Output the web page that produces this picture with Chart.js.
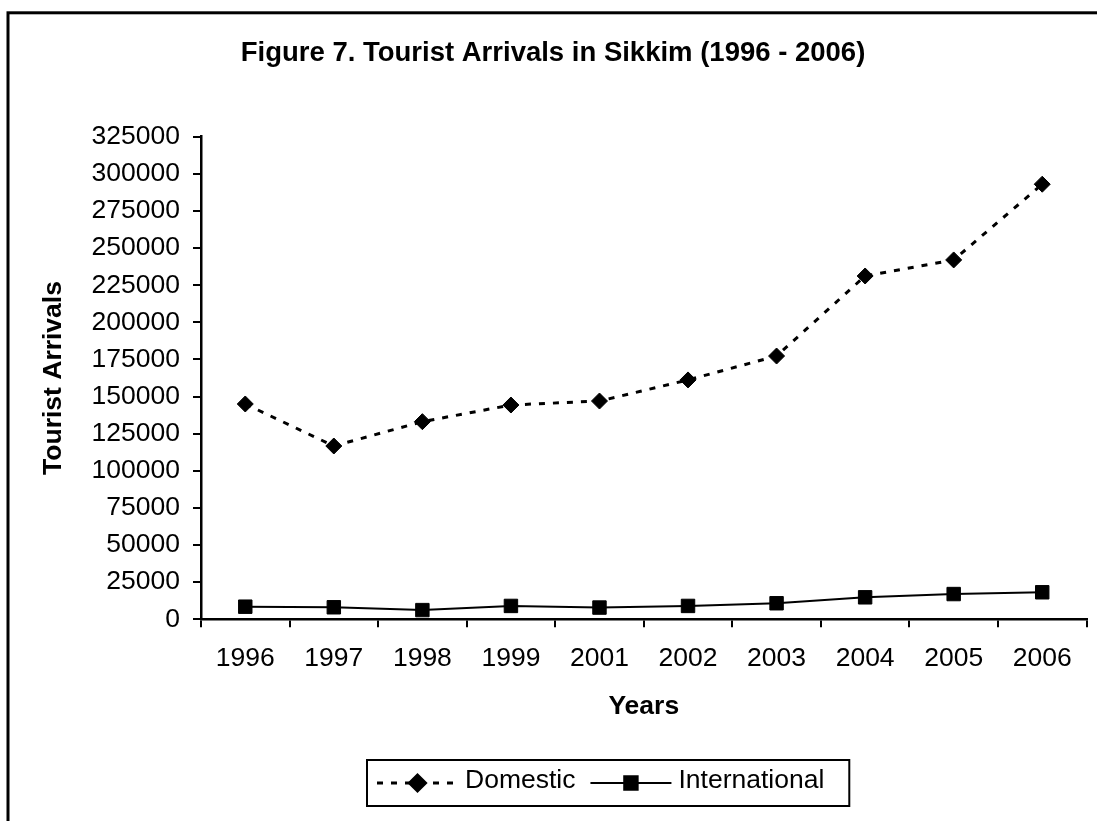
<!DOCTYPE html>
<html>
<head>
<meta charset="utf-8">
<title>Tourist Arrivals in Sikkim</title>
<script src="https://cdn.jsdelivr.net/npm/chart.js@4.4.1/dist/chart.umd.min.js"></script>
<style>
  html, body { margin: 0; padding: 0; background: #fff; }
  canvas { display: block; }
</style>
</head>
<body>
<canvas id="chart" width="1097" height="821"></canvas>
<script>
// Tourist arrivals per year
const years = ['1996', '1997', '1998', '1999', '2001', '2002', '2003', '2004', '2005', '2006'];
const domestic = [145000, 116700, 133100, 144300, 147000, 161200, 177300, 231200, 242000, 293000];
const international = [8500, 8100, 6200, 9000, 7900, 9000, 10800, 14800, 17000, 18200];
const seriesNames = ['Domestic', 'International'];

const chartTitle = 'Figure 7. Tourist Arrivals in Sikkim (1996 - 2006)';
const yAxisTitle = 'Tourist Arrivals';
const xAxisTitle = 'Years';
const yMin = 0;
const yMax = 325000;
const yStep = 25000;

const FONT = '"Liberation Sans", Arial, Helvetica, sans-serif';
const FS = 26.5;
const TITLE_FS = 27.5;

// White page with the heavy outer frame
const frame = {
  id: 'frame',
  beforeDraw(chart) {
    const ctx = chart.ctx;
    ctx.save();
    ctx.fillStyle = '#fff';
    ctx.fillRect(0, 0, chart.width, chart.height);
    ctx.strokeStyle = '#000';
    ctx.lineWidth = 3;
    ctx.strokeRect(8, 12.8, chart.width + 40, chart.height + 40);
    ctx.restore();
  }
};

// Legend in a bordered box, with line + marker samples for each series
const boxedLegend = {
  id: 'boxedLegend',
  afterDraw(chart, args, o) {
    const ctx = chart.ctx;
    ctx.save();
    ctx.font = FS + 'px ' + FONT;
    const sets = chart.data.datasets;
    const widths = sets.map(ds => ctx.measureText(ds.label).width);
    let w = o.padLeft + o.padRight;
    widths.forEach((tw, i) => { w += o.sample + o.textGap + tw + (i ? o.itemGap : 0); });

    ctx.strokeStyle = '#000';
    ctx.lineWidth = 2;
    ctx.strokeRect(o.left, o.top, w, o.height);

    const cy = o.top + o.height / 2;
    let x = o.left + o.padLeft;
    sets.forEach((ds, i) => {
      if (i) x += o.itemGap;
      ctx.save();
      ctx.strokeStyle = ds.borderColor;
      ctx.lineWidth = ds.borderWidth;
      ctx.setLineDash(ds.borderDash || []);
      ctx.beginPath();
      ctx.moveTo(x, cy);
      ctx.lineTo(x + o.sample, cy);
      ctx.stroke();
      ctx.setLineDash([]);
      ctx.fillStyle = ds.pointBackgroundColor;
      ctx.strokeStyle = ds.pointBorderColor;
      Chart.helpers.drawPoint(ctx, {
        pointStyle: ds.pointStyle,
        radius: ds.pointRadius,
        borderWidth: ds.pointBorderWidth,
        rotation: 0
      }, x + o.sample / 2, cy);
      ctx.restore();
      x += o.sample + o.textGap;
      ctx.fillStyle = '#000';
      ctx.textAlign = 'left';
      ctx.textBaseline = 'middle';
      ctx.fillText(ds.label, x, cy - 2);
      x += widths[i];
    });
    ctx.restore();
  }
};

new Chart(document.getElementById('chart'), {
  type: 'line',
  data: {
    labels: years,
    datasets: [
      {
        label: seriesNames[0],
        data: domestic,
        borderColor: '#000',
        borderWidth: 3,
        borderDash: [6, 8],
        pointStyle: 'rectRot',
        pointRadius: 8,
        pointBackgroundColor: '#000',
        pointBorderColor: '#000',
        pointBorderWidth: 1,
        tension: 0,
        fill: false
      },
      {
        label: seriesNames[1],
        data: international,
        borderColor: '#000',
        borderWidth: 2,
        pointStyle: 'rect',
        pointRadius: 9.5,
        pointBackgroundColor: '#000',
        pointBorderColor: '#000',
        pointBorderWidth: 1,
        tension: 0,
        fill: false
      }
    ]
  },
  options: {
    responsive: false,
    animation: false,
    layout: { padding: { left: 17, right: 8, top: 0, bottom: 81.7 } },
    plugins: {
      legend: { display: false },
      tooltip: { enabled: false },
      title: {
        display: true,
        text: chartTitle,
        color: '#000',
        font: { family: FONT, size: TITLE_FS, weight: 'bold', lineHeight: 1.2 },
        padding: { top: 36.5, bottom: 67.2 }
      },
      boxedLegend: {
        left: 367, top: 760, height: 46,
        padLeft: 10, padRight: 25,
        sample: 81, textGap: 7, itemGap: 15
      }
    },
    scales: {
      x: {
        type: 'category',
        offset: true,
        grid: {
          offset: true,
          drawOnChartArea: false,
          drawTicks: true,
          tickLength: 8,
          color: '#000',
          lineWidth: 2
        },
        border: { display: true, color: '#000', width: 2.5 },
        ticks: {
          color: '#000',
          font: { family: FONT, size: FS, lineHeight: 1.2 },
          padding: 15,
          maxRotation: 0,
          autoSkip: false
        },
        title: {
          display: true,
          text: xAxisTitle,
          color: '#000',
          font: { family: FONT, size: FS, weight: 'bold', lineHeight: 1.2 },
          padding: { top: 0, bottom: 16.8 }
        },
        afterFit(scale) { scale.height = 120; }
      },
      y: {
        min: yMin,
        max: yMax,
        grid: {
          drawOnChartArea: false,
          drawTicks: true,
          tickLength: 8,
          color: '#000',
          lineWidth: 2
        },
        border: { display: true, color: '#000', width: 2.5 },
        ticks: {
          stepSize: yStep,
          color: '#000',
          font: { family: FONT, size: FS, lineHeight: 1.2 },
          padding: 13,
          callback: v => String(v)
        },
        title: {
          display: true,
          text: yAxisTitle,
          color: '#000',
          font: { family: FONT, size: FS, weight: 'bold', lineHeight: 1.2 },
          padding: { top: 21, bottom: 0 }
        },
        afterFit(scale) { scale.width = 184; }
      }
    }
  },
  plugins: [frame, boxedLegend]
});
</script>
</body>
</html>
